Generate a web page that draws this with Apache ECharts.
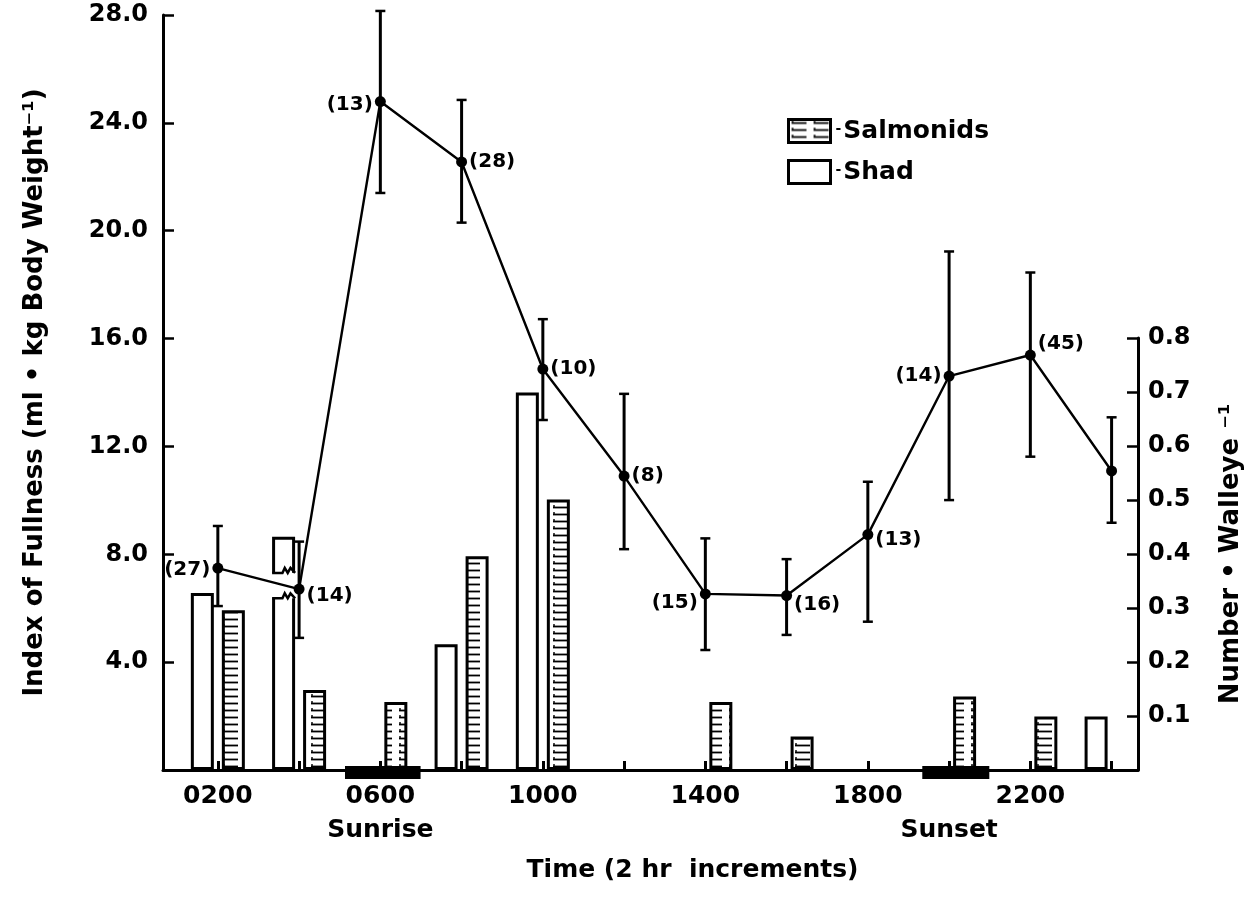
<!DOCTYPE html>
<html><head><meta charset="utf-8">
<script src="https://cdn.jsdelivr.net/npm/echarts@6/dist/echarts.min.js"></script>
<style>html,body{margin:0;padding:0;background:#fff}#c{width:1256px;height:903px}</style>
</head><body><div id="c"></div>
<script>
// ---- data ----
const hours = [2, 4, 6, 8, 10, 12, 14, 16, 18, 20, 22, 24];
const fullness     = [7.49, 6.71, 24.79, 22.55, 14.87, 10.90, 6.53, 6.47, 8.73, 14.61, 15.39, 11.09];
const fullnessHigh = [9.05, 8.47, 28.15, 24.85, 16.72, 13.95, 8.59, 7.82, 10.69, 19.23, 18.45, 13.08];
const fullnessLow  = [6.08, 4.90, 21.40, 20.30, 12.98, 8.19, 4.45, 5.01, 5.50, 10.01, 11.62, 9.17];
const sampleSize   = [27, 14, 13, 28, 10, 8, 15, 16, 13, 14, 45, null];
const shad      = [0.328, 0.432, null, 0.233, 0.699, null, null, null, null, null, null, 0.099];
const salmonids = [0.296, 0.148, 0.126, 0.396, 0.501, null, 0.126, 0.062, null, 0.136, 0.099, null];
const shadBreak = [[4, 0.318, 0.365]];          // broken shad bar at 0400 (gap between values)
const twilight  = [[5.13, 6.99], [19.34, 20.99]]; // dark bars on the time axis
const timeLabels  = {2: '0200', 6: '0600', 10: '1000', 14: '1400', 18: '1800', 22: '2200'};
const eventLabels = {6: 'Sunrise', 20: 'Sunset'};

// ---- styles ----
const labelSide   = ['left','right','left','right','right','right','left','right','right','left','right','right'];
const labelShiftY = [2, 7, 3, 0, 0, 0, 9, 9, 5, 0, -11, 0];
const FONT = 'DejaVu Sans';
const BAR_W = 23, BAR_GAP = 8;

function hatch() {
  const c = document.createElement('canvas');
  c.width = 22; c.height = 7;
  const g = c.getContext('2d');
  g.fillStyle = '#fff'; g.fillRect(0, 0, 22, 7);
  g.strokeStyle = '#000'; g.lineWidth = 1.8;
  g.beginPath(); g.moveTo(3, 3.5); g.lineTo(18, 3.5); g.stroke();
  g.lineWidth = 1.4;
  g.beginPath(); g.moveTo(4, 1); g.lineTo(4, 3.5); g.stroke();
  return c;
}
const hatchFill = {image: hatch(), repeat: 'repeat'};

const chart = echarts.init(document.getElementById('c'));
const axisLine = {show: true, lineStyle: {color: '#000', width: 3}};
const txt = {fontFamily: FONT, fontWeight: 'bold', color: '#000'};

chart.setOption({
  animation: false,
  backgroundColor: '#fff',
  grid: [
    {left: 163, right: 118, top: 15, bottom: 133},
    {left: 163, right: 118, top: 338, bottom: 133}
  ],
  legend: {
    left: 782, top: 113, orient: 'vertical', selectedMode: false,
    itemWidth: 42, itemHeight: 23, itemGap: 15, icon: 'rect',
    data: ['Salmonids', 'Shad'],
    itemStyle: {borderColor: '#000', borderWidth: 3},
    formatter: n => '{d|-}' + n,
    textStyle: Object.assign({fontSize: 25, rich: {d: {fontFamily: FONT, fontSize: 14, color: '#000', padding: [0, 2, 3, 0]}}}, txt)
  },
  xAxis: [
    {
      gridIndex: 0, type: 'value', min: 0.65, max: 24.65, splitNumber: 12, minInterval: 2, maxInterval: 2,
      axisLine: axisLine,
      axisTick: {show: true, inside: true, length: 9, lineStyle: {color: '#000', width: 3}},
      splitLine: {show: false},
      axisLabel: Object.assign({
        fontSize: 25, margin: 9, lineHeight: 34,
        showMinLabel: false, showMaxLabel: false,
        formatter: v => {
          const t = timeLabels[v] || '';
          const e = eventLabels[v];
          return e ? t + '\n' + e : t;
        }
      }, txt),
      name: 'Time (2 hr  increments)', nameLocation: 'middle', nameGap: 88,
      nameTextStyle: Object.assign({fontSize: 25, padding: [0, 0, 0, 84]}, txt)
    },
    {gridIndex: 1, type: 'value', min: 0.65, max: 24.65, show: false, splitLine: {show: false}}
  ],
  yAxis: [
    {
      gridIndex: 0, type: 'value', position: 'left', min: 0, max: 28, interval: 4,
      axisLine: axisLine,
      axisTick: {show: true, inside: true, length: 11, lineStyle: {color: '#000', width: 2.5}},
      splitLine: {show: false},
      axisLabel: Object.assign({fontSize: 24, margin: 15, formatter: v => v === 0 ? '' : v.toFixed(1)}, txt),
      name: 'Index of Fullness (ml • kg Body Weight\u207B\u00B9)', nameLocation: 'middle', nameGap: 115,
      nameTextStyle: Object.assign({fontSize: 26}, txt)
    },
    {
      gridIndex: 1, type: 'value', position: 'right', min: 0, max: 0.8, interval: 0.1,
      axisLine: axisLine,
      axisTick: {show: true, inside: true, length: 11, lineStyle: {color: '#000', width: 2.5}},
      splitLine: {show: false},
      axisLabel: Object.assign({fontSize: 24, margin: 10, formatter: v => v === 0 ? '' : v.toFixed(1)}, txt),
      name: 'Number • Walleye \u207B\u00B9', nameLocation: 'middle', nameGap: 80,
      nameTextStyle: Object.assign({fontSize: 26}, txt)
    }
  ],
  series: [
    {
      name: 'Shad', type: 'bar', xAxisIndex: 1, yAxisIndex: 1,
      barWidth: BAR_W, barGap: (BAR_GAP / BAR_W * 100) + '%',
      itemStyle: {color: '#fff', borderColor: '#000', borderWidth: 3},
      data: hours.map((h, i) => [h, shad[i]]), z: 2
    },
    {
      name: 'Salmonids', type: 'bar', xAxisIndex: 1, yAxisIndex: 1,
      barWidth: BAR_W, barGap: (BAR_GAP / BAR_W * 100) + '%',
      itemStyle: {color: hatchFill, borderColor: '#000', borderWidth: 3},
      data: hours.map((h, i) => [h, salmonids[i]]), z: 2
    },
    {
      type: 'custom', xAxisIndex: 1, yAxisIndex: 1, z: 3, clip: false,
      encode: {x: 0, y: [1, 2]},
      data: shadBreak,
      renderItem: (p, api) => {
        const lo = api.coord([api.value(0), api.value(1)]);
        const hi = api.coord([api.value(0), api.value(2)]);
        const cx = lo[0] - (BAR_W + BAR_GAP) / 2;
        const x0 = cx - BAR_W / 2, w = BAR_W;
        const zig = (y, d) => [[x0, y], [x0 + w * 0.45, y], [x0 + w * 0.55, y - 5 * d], [x0 + w * 0.68, y], [x0 + w * 0.8, y - 5 * d], [x0 + w, y]];
        return {type: 'group', children: [
          {type: 'rect', shape: {x: x0 - 3, y: hi[1], width: w + 6, height: lo[1] - hi[1]}, style: {fill: '#fff'}},
          {type: 'polyline', shape: {points: zig(lo[1], 1)}, style: {stroke: '#000', lineWidth: 2.5, fill: null}},
          {type: 'polyline', shape: {points: zig(hi[1], 1)}, style: {stroke: '#000', lineWidth: 2.5, fill: null}}
        ]};
      }
    },
    {
      type: 'custom', xAxisIndex: 0, yAxisIndex: 0, z: 4, clip: false,
      encode: {x: [0, 1]},
      data: twilight,
      renderItem: (p, api) => {
        const s = api.coord([api.value(0), 0]);
        const e = api.coord([api.value(1), 0]);
        return {type: 'rect', shape: {x: s[0], y: s[1] - 4, width: e[0] - s[0], height: 13}, style: {fill: '#000'}};
      }
    },
    {
      type: 'custom', xAxisIndex: 0, yAxisIndex: 0, z: 5, clip: false,
      encode: {x: 0, y: [1, 2]},
      data: hours.map((h, i) => [h, fullnessLow[i], fullnessHigh[i]]),
      renderItem: (p, api) => {
        const a = api.coord([api.value(0), api.value(2)]);
        const b = api.coord([api.value(0), api.value(1)]);
        const cw = 5;
        return {type: 'group', children: [
          {type: 'line', shape: {x1: a[0], y1: a[1], x2: b[0], y2: b[1]}, style: {stroke: '#000', lineWidth: 3}},
          {type: 'line', shape: {x1: a[0] - cw, y1: a[1], x2: a[0] + cw, y2: a[1]}, style: {stroke: '#000', lineWidth: 2.5}},
          {type: 'line', shape: {x1: b[0] - cw, y1: b[1], x2: b[0] + cw, y2: b[1]}, style: {stroke: '#000', lineWidth: 2.5}}
        ]};
      }
    },
    {
      type: 'line', xAxisIndex: 0, yAxisIndex: 0, z: 6,
      symbol: 'circle', symbolSize: 11,
      lineStyle: {color: '#000', width: 2.4},
      itemStyle: {color: '#000'},
      data: hours.map((h, i) => ({
        value: [h, fullness[i]],
        label: {
          show: sampleSize[i] != null,
          position: labelSide[i], distance: 2, offset: [0, labelShiftY[i]],
          formatter: '(' + sampleSize[i] + ')'
        }
      })),
      label: Object.assign({fontSize: 20}, txt)
    }
  ]
});
</script>
</body></html>
